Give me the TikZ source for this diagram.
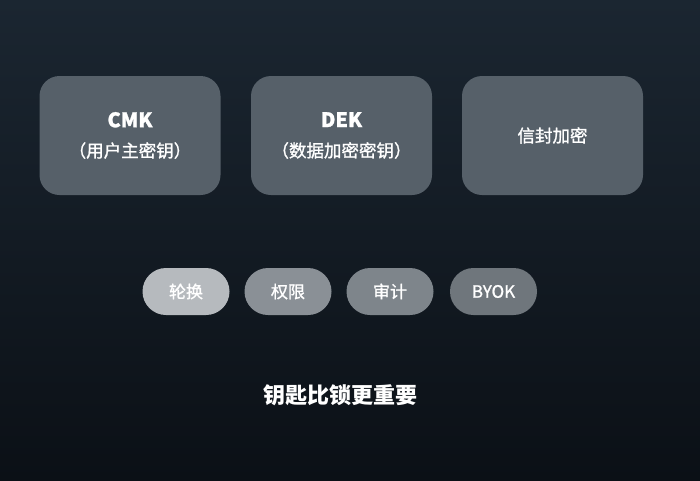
\documentclass[tikz,border=0pt]{standalone}
\usepackage{fontspec}
\setmainfont{Noto Sans CJK SC}
\newfontfamily\medfont{Noto Sans CJK SC}[FakeBold=1.2]
\definecolor{bgtop}{HTML}{1B2631}
\definecolor{bgbot}{HTML}{0B1016}
\definecolor{boxfill}{HTML}{566069}
\definecolor{pillA}{HTML}{B6BABE}
\definecolor{pillB}{HTML}{8A9096}
\definecolor{pillC}{HTML}{7E858B}
\definecolor{pillD}{HTML}{6F767C}

\begin{document}
\begin{tikzpicture}[x=1pt, y=-1pt, lbl/.style={text=white, font=\medfont\fontsize{17.5}{30}\selectfont}]
\tikzstyle{key}=[rounded corners=20pt, fill=boxfill, minimum width=181pt, minimum height=119pt, align=center, lbl]
\tikzstyle{pill}=[rounded corners=23.5pt, minimum width=87pt, minimum height=47pt, text=white, font=\medfont\fontsize{17}{17}\selectfont]
\shade[top color=bgtop, bottom color=bgbot] (0,0) rectangle (700,480);
\useasboundingbox (0,0) rectangle (700,480);
\node[key] (cmk) at (130,135.5){{\fontsize{20}{30}\selectfont\bfseries CMK}\\（用户主密钥）};
\node[key] (dek) at (341.5,135.5){{\fontsize{20}{30}\selectfont\bfseries DEK}\\（数据加密密钥）};
\node[key] (env) at (552.5,135.5){信封加密};
\foreach \n/\x/\c/\t in {rot/186/pillA/轮换,acl/288/pillB/权限,aud/390/pillC/审计,byok/493.5/pillD/BYOK}{\node[pill, fill=\c] (\n) at (\x,291.5){\t};}
\node[text=white, font=\fontsize{22}{22}\selectfont\bfseries] (motto) at (340,395){钥匙比锁更重要};
\end{tikzpicture}
\end{document}
